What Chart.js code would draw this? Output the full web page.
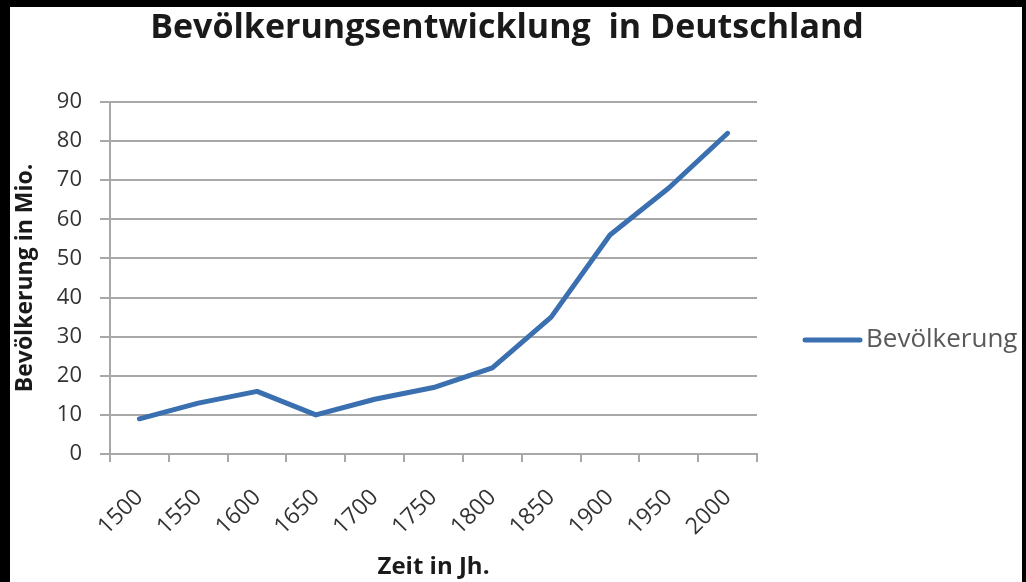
<!DOCTYPE html>
<html lang="de">
<head>
<meta charset="utf-8">
<title>Bevölkerungsentwicklung in Deutschland</title>
<script src="https://cdn.jsdelivr.net/npm/chart.js@4.4.1/dist/chart.umd.min.js"></script>
<style>
  html, body { margin: 0; background: #000; }
  #wrap { position: absolute; left: 10px; top: 7px; width: 1012px; height: 575px; background: #fff; }
</style>
</head>
<body>
<div id="wrap"><canvas id="popChart"></canvas></div>
<script>
// Jahre und Bevölkerung (Mio.)
const years = ['1500', '1550', '1600', '1650', '1700', '1750', '1800', '1850', '1900', '1950', '2000'];
const population = [9, 13, 16, 10, 14, 17, 22, 35, 56, 68, 82];
const yMin = 0, yMax = 90, yStep = 10;

const chartTitle = 'Bevölkerungsentwicklung  in Deutschland';
const seriesName = 'Bevölkerung';
const lineColor = '#3a6fb0';
const gridColor = '#a8a8a8';
const font = '"Open Sans", "DejaVu Sans", sans-serif';

// Titel und Legende selbst zeichnen (Excel-Layout)
const decorations = {
  id: 'decorations',
  afterDraw(chart) {
    const ctx = chart.ctx;
    const ds = chart.data.datasets[0];
    ctx.save();
    ctx.font = 'bold 34px ' + font;
    ctx.fillStyle = '#1a1a1a';
    ctx.textAlign = 'center';
    ctx.textBaseline = 'middle';
    ctx.fillText(chartTitle, 497, 21);

    const ly = 333;
    ctx.strokeStyle = ds.borderColor;
    ctx.lineWidth = 5;
    ctx.lineCap = 'round';
    ctx.beginPath();
    ctx.moveTo(795, ly);
    ctx.lineTo(850, ly);
    ctx.stroke();
    ctx.font = '26px ' + font;
    ctx.fillStyle = '#595959';
    ctx.textAlign = 'left';
    ctx.fillText(ds.label, 856, ly);
    ctx.restore();
  }
};

new Chart(document.getElementById('popChart'), {
  type: 'line',
  data: {
    labels: years,
    datasets: [{
      label: seriesName,
      data: population,
      borderColor: lineColor,
      backgroundColor: lineColor,
      borderWidth: 5,
      borderCapStyle: 'round',
      borderJoinStyle: 'round',
      pointRadius: 0,
      tension: 0
    }]
  },
  options: {
    responsive: true,
    maintainAspectRatio: false,
    animation: false,
    layout: { padding: { top: 95, right: 265, left: 0, bottom: 0 } },
    plugins: {
      legend: { display: false },
      tooltip: { enabled: false }
    },
    scales: {
      x: {
        offset: true,
        afterFit: s => { s.height = 128; },
        grid: { offset: true, drawOnChartArea: false, color: gridColor, lineWidth: 2, tickLength: 8 },
        border: { color: gridColor, width: 2 },
        ticks: {
          minRotation: 45, maxRotation: 45, padding: 22,
          color: '#333', font: { family: font, size: 23 }
        },
        title: {
          display: true, text: 'Zeit in Jh.', color: '#1a1a1a',
          font: { family: font, size: 24, weight: 'bold' }, padding: { top: 0, bottom: 0 }
        }
      },
      y: {
        min: yMin, max: yMax,
        afterFit: s => { s.width = 100; },
        grid: { color: gridColor, lineWidth: 2, tickLength: 10 },
        border: { color: gridColor, width: 2 },
        ticks: {
          stepSize: yStep, padding: 18,
          color: '#333', font: { family: font, size: 22 }
        },
        title: {
          display: true, text: 'Bevölkerung in Mio.', color: '#1a1a1a',
          font: { family: font, size: 23, weight: 'bold' }, padding: { top: 2, bottom: 0 }
        }
      }
    }
  },
  plugins: [decorations]
});
</script>
</body>
</html>
